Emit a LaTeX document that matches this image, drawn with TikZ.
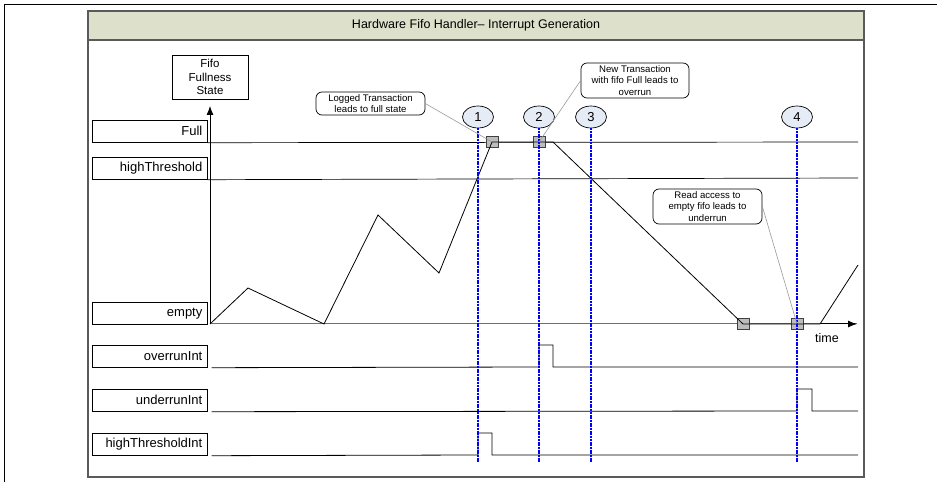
\documentclass[tikz,border=0pt]{standalone}
\usepackage{fontspec}
\setmainfont{Liberation Sans}
\usetikzlibrary{arrows.meta,shapes.geometric}
\definecolor{framegray}{HTML}{5A5A5A}
\definecolor{titlefill}{HTML}{DDE0CA}
\definecolor{ellfill}{HTML}{E6ECF5}
\definecolor{sqfill}{HTML}{BDBDBD}
\definecolor{leadgray}{HTML}{9A9A9A}
\definecolor{axgray}{HTML}{707070}
\begin{document}
\begin{tikzpicture}[x=1pt,y=-1pt,
  every node/.style={inner sep=0pt},
  lbl/.style={draw=black, line width=0.7pt, fill=white, minimum width=115pt, minimum height=22pt,
    text width=105pt, align=right, inner xsep=5pt, font=\fontsize{13}{15}\selectfont, anchor=north west},
  titlebox/.style={draw=framegray, line width=1.2pt, fill=titlefill, minimum width=776pt, minimum height=29pt,
    font=\fontsize{12.5}{14}\selectfont},
  frame/.style={draw=framegray, line width=1.2pt},
  level/.style={draw=black, line width=0.7pt},
  sig/.style={draw=black, line width=0.8pt},
  curve/.style={draw=black, line width=0.8pt},
  num/.style={ellipse, draw=black, line width=0.7pt, fill=ellfill, minimum width=31pt, minimum height=22pt,
    font=\fontsize{13}{15}\selectfont},
  vline/.style={draw=blue, line width=2pt, dash pattern=on 2pt off 0.7pt},
  sq/.style={draw=black!75, line width=0.6pt, fill=sqfill, minimum width=12pt, minimum height=11pt},
  callout/.style={draw=black, line width=0.7pt, fill=white, rounded corners=6pt, align=center,
    font=\fontsize{9.6}{11.5}\selectfont},
  leader/.style={draw=leadgray, line width=0.6pt}
]
\useasboundingbox (0,0) rectangle (937,486);
% outer border
\draw[line width=1pt] (4,482) -- (4,5) -- (937,5);
% inner frame and title
\draw[frame] (88,11) rectangle (864,477);
\node[titlebox] (title) at (476,25.5) {Hardware Fifo Handler– Interrupt Generation};

% level labels
\node[lbl] (lfull) at (92,120) {Full};
\node[lbl] (lhigh) at (92,157) {highThreshold};
\node[lbl] (lempty) at (92,302) {empty};
\node[lbl] (lovr) at (92,345) {overrunInt};
\node[lbl] (lund) at (92,389) {underrunInt};
\node[lbl] (lhti) at (92,433) {highThresholdInt};

% y-axis label
\node[draw=black, line width=0.7pt, minimum width=76pt, minimum height=44pt, align=center,
  font=\fontsize{11.5}{13.5}\selectfont] (fifo) at (210,77) {Fifo\\Fullness\\State};

% level lines
\draw[level] (lfull.south east) -- (858,142);
\draw[level] (lhigh.south east) -- (858,178);

% axes
\coordinate (origin) at (210,324);
\coordinate (tend) at (857,324);
\coordinate (rise) at (820,324);
\draw[axgray, line width=1pt] (origin) -- (tend);
\draw[black, line width=1pt, -{Latex[length=9pt,width=7pt]}] (rise) -- (tend);
\draw[black, line width=0.8pt, -{Latex[length=9pt,width=7pt]}] (origin) -- (origin |- 0,106);
\node[font=\fontsize{12.5}{14}\selectfont] (time) at (827,338) {time};

% numbered markers
\node[num] (e1) at (478,117) {1};
\node[num] (e2) at (539,117) {2};
\node[num] (e3) at (591,117) {3};
\node[num] (e4) at (797,117) {4};

% squares
\node[sq] (s1) at (492,142) {};
\node[sq] (s2) at (539,142) {};
\node[sq] (s3) at (743,324) {};
\node[sq] (s4) at (797,324) {};

% fifo fullness curve
\draw[curve] (origin) -- (248,288) -- (324,324) -- (378,215) -- (439,273) -- (s1.center)
  -- (s2.center) -- (553,142) -- (s3.center) -- (s4.center) -- (rise) -- (858,265);

% interrupt waveforms
\draw[sig] ([xshift=4pt]lovr.south east) -- (e2.south |- 0,367) -- (e2.south |- 0,345)
  -- (553,345) -- (553,367) -- (858,367);
\draw[sig] ([xshift=4pt]lund.south east) -- (e4.south |- 0,411) -- (e4.south |- 0,389)
  -- (812,389) -- (812,411) -- (858,411);
\draw[sig] ([xshift=4pt]lhti.south east) -- (e1.south |- 0,455) -- (e1.south |- 0,433)
  -- (492,433) -- (492,455) -- (858,455);

% blue event lines
\draw[vline] (e1.south) -- (e1.south |- 0,463);
\draw[vline] (e2.south) -- (e2.south |- 0,463);
\draw[vline] (e3.south) -- (e3.south |- 0,463);
\draw[vline] (e4.south) -- (e4.south |- 0,463);

% callouts
\node[callout, minimum width=109pt, minimum height=23pt] (c1) at (370.5,103.5) {Logged Transaction\\leads to full state};
\node[callout, minimum width=108pt, minimum height=35pt] (c2) at (635,80.5) {New Transaction\\with fifo Full leads to\\overrun};
\node[callout, minimum width=109pt, minimum height=35pt] (c3) at (707.5,206.5) {Read access to\\empty fifo leads to\\underrun};
\draw[leader] (c1.east) -- (s1.center);
\draw[leader] (c2.west) -- (s2.center);
\draw[leader] (c3.east) -- (s4.center);
\end{tikzpicture}
\end{document}
